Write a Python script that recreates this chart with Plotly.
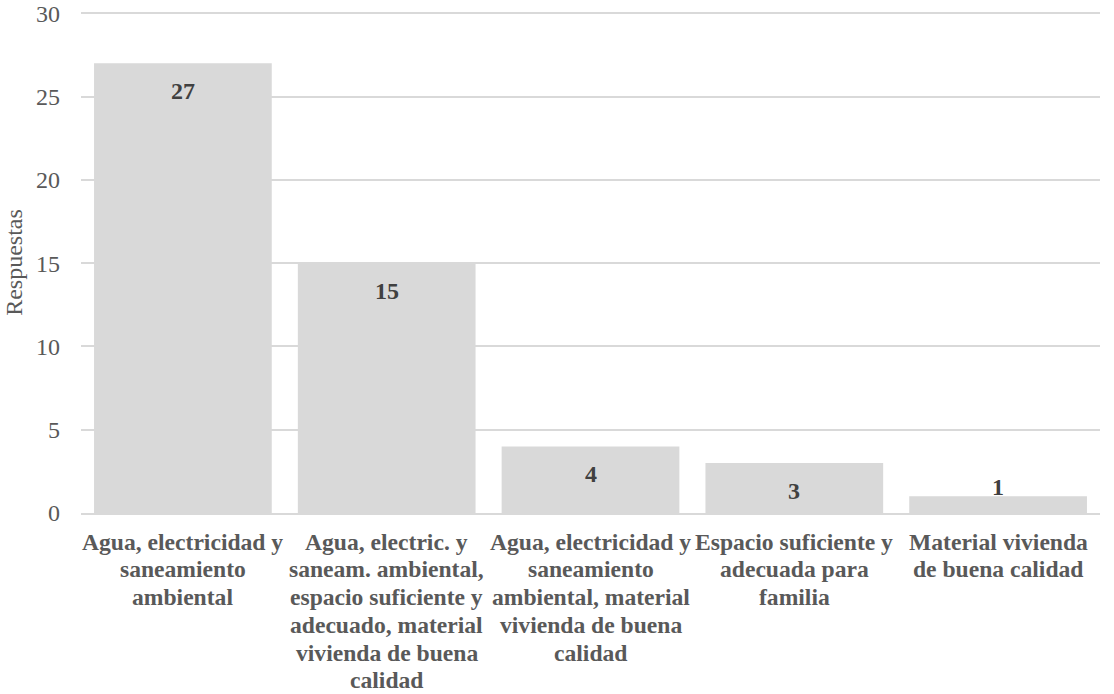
import plotly.graph_objects as go

categories = [
    "Agua, electricidad y<br>saneamiento<br>ambiental",
    "Agua, electric. y<br>saneam. ambiental,<br>espacio suficiente y<br>adecuado, material<br>vivienda de buena<br>calidad",
    "Agua, electricidad y<br>saneamiento<br>ambiental, material<br>vivienda de buena<br>calidad",
    "Espacio suficiente y<br>adecuada para<br>familia",
    "Material vivienda<br>de buena calidad",
]
values = [27, 15, 4, 3, 1]
y_ticks = [0, 5, 10, 15, 20, 25, 30]

FONT = "Liberation Serif"
W, H = 1114, 694
Y_MAX = 30.08  # a hair above 30 so the top gridline is drawn
TOP, BOTTOM, LEFT, RIGHT = 11.7, 181, 81, 14
fig = go.Figure()
fig.add_trace(go.Bar(
    x=list(range(len(categories))),
    y=values,
    marker=dict(color="#d9d9d9", line=dict(width=0)),
    hoverinfo="skip",
))

plot_h = H - TOP - BOTTOM
px_per_unit = plot_h / Y_MAX
for i, v in enumerate(values):
    if v * px_per_unit > 40:
        fig.add_annotation(x=i, y=v, text=f"<b>{v}</b>", showarrow=False,
                           yanchor="top", yshift=-13,
                           font=dict(family=FONT, size=24, color="#404040"))
    else:
        fig.add_annotation(x=i, y=0, text=f"<b>{v}</b>", showarrow=False,
                           yanchor="bottom", yshift=11,
                           font=dict(family=FONT, size=24, color="#404040"))

# category labels, one annotation per line (Excel-like tight line spacing)
LINE = 27.7
for i, c in enumerate(categories):
    for k, line in enumerate(c.split("<br>")):
        fig.add_annotation(x=i, y=0, text=f"<b>{line}</b>", showarrow=False,
                           yanchor="middle", yshift=-(28.7 + k * LINE),
                           font=dict(family=FONT, size=23.6, color="#595959"))

fig.update_layout(
    width=W, height=H,
    margin=dict(l=LEFT, r=RIGHT, t=TOP, b=BOTTOM),
    paper_bgcolor="white", plot_bgcolor="white",
    bargap=0.128,
    showlegend=False,
    hovermode=False,
    font=dict(family=FONT, size=24, color="#595959"),
)
fig.update_xaxes(
    tickmode="array",
    tickvals=list(range(len(categories))),
    showticklabels=False,
    range=[-0.5, len(categories) - 0.5],
    showgrid=False, zeroline=False,
    showline=True, linecolor="#d9d9d9", linewidth=1.5,
    ticks="", automargin=False,
)
fig.update_yaxes(
    range=[0, Y_MAX],
    tickvals=y_ticks,
    tickfont=dict(family=FONT, size=24, color="#595959"),
    showgrid=True, gridcolor="#d9d9d9", gridwidth=1.5,
    zeroline=False, showline=False, ticks="",
    ticklabelstandoff=20,
    ticklabeloverflow="allow",
    automargin=False,
    title=dict(text="Respuestas", font=dict(family=FONT, size=24, color="#595959"), standoff=6),
)
fig.write_html(
    "out.html",
    config={"displayModeBar": False},
    post_script="document.body.style.margin='0';document.body.style.overflow='hidden';",
)
